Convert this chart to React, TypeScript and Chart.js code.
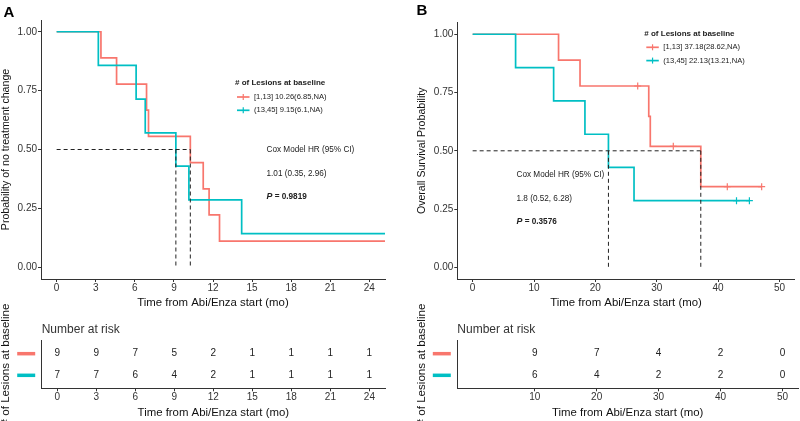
import React, { useEffect, useRef } from "react";
import { Chart, registerables } from "chart.js";

Chart.register(...registerables);

const FONT = "'Liberation Sans', Arial, Helvetica, sans-serif";
const RED = "#F8766D";
const CYAN = "#00BFC4";
const AXIS = "#333333";
const INK = "#222222";

// ---------- shared ----------
const yTicks = [0, 0.25, 0.5, 0.75, 1];
const riskRows = [1, 2];

// ---------- Panel A: time to treatment change ----------
const aXTicks = [0, 3, 6, 9, 12, 15, 18, 21, 24];
const aRedTime = [0, 3.4, 4.6, 6.9, 7.05, 10.26, 11.25, 11.7, 12.5, 26];
const aRedSurv = [1, 0.889, 0.778, 0.667, 0.556, 0.444, 0.333, 0.222, 0.111, 0.111];
const aCyanTime = [0, 3.2, 6.1, 6.8, 9.15, 10.15, 14.2, 26];
const aCyanSurv = [1, 0.857, 0.714, 0.571, 0.429, 0.286, 0.143, 0.143];
const aMedians = [9.15, 10.26];
const aLegend = ["[1,13] 10.26(6.85,NA)", "(13,45] 9.15(6.1,NA)"];
const aCox = ["Cox Model HR (95% CI)", "1.01 (0.35, 2.96)", "0.9819"];
const aRiskTimes = [0, 3, 6, 9, 12, 15, 18, 21, 24];
const aRiskRed = [9, 9, 7, 5, 2, 1, 1, 1, 1];
const aRiskCyan = [7, 7, 6, 4, 2, 1, 1, 1, 1];

// ---------- Panel B: overall survival ----------
const bXTicks = [0, 10, 20, 30, 40, 50];
const bRedTime = [0, 14, 17.5, 28.7, 28.95, 37.18, 47.1];
const bRedSurv = [1, 0.889, 0.778, 0.648, 0.519, 0.346, 0.346];
const bRedCensorTime = [26.9, 32.7, 41.5, 47.1];
const bRedCensorSurv = [0.778, 0.519, 0.346, 0.346];
const bCyanTime = [0, 7, 13.2, 18.3, 22.13, 26.3, 45.1];
const bCyanSurv = [1, 0.857, 0.714, 0.571, 0.429, 0.286, 0.286];
const bCyanCensorTime = [43.0, 45.1];
const bCyanCensorSurv = [0.286, 0.286];
const bMedians = [22.13, 37.18];
const bLegend = ["[1,13] 37.18(28.62,NA)", "(13,45] 22.13(13.21,NA)"];
const bCox = ["Cox Model HR (95% CI)", "1.8 (0.52, 6.28)", "0.3576"];
const bRiskTimes = [10, 20, 30, 40, 50];
const bRiskRed = [9, 7, 4, 2, 0];
const bRiskCyan = [6, 4, 2, 2, 0];

const xTitle = "Time from Abi/Enza start (mo)";
const riskYTitle = "# of Lesions at baseline";
const legendTitle = "# of Lesions at baseline";

Chart.defaults.font.family = FONT;

type Pt = { x: number; y: number; n?: number };
const pts = (xs: number[], ys: number[]): Pt[] => xs.map((x, i) => ({ x, y: ys[i] }));

function xScale(min: number, max: number, ticks: number[], height: number, titlePadBottom: number) {
  return {
    type: "linear",
    min,
    max,
    afterBuildTicks: (s: any) => {
      s.ticks = ticks.map((v) => ({ value: v }));
    },
    afterFit: (s: any) => {
      s.height = height;
    },
    grid: { drawOnChartArea: false, drawTicks: true, tickLength: 3, color: AXIS, tickColor: AXIS, lineWidth: 1 },
    border: { display: true, color: AXIS, width: 1 },
    ticks: {
      color: AXIS,
      font: { family: FONT, size: 10 },
      padding: 0,
      maxRotation: 0,
      autoSkip: false,
      callback: (v: any) => String(v),
    },
    title: {
      display: true,
      text: xTitle,
      color: "#111",
      font: { family: FONT, size: 11.4 },
      padding: { top: 0, bottom: titlePadBottom },
    },
  };
}

type KMOpts = {
  letter: string;
  letterX: number;
  letterY: number;
  yTitle: string;
  xMin: number;
  xMax: number;
  xTicks: number[];
  padLeft: number;
  yWidth: number;
  padTop: number;
  padRight: number;
  red: Pt[];
  cyan: Pt[];
  redCensor: Pt[];
  cyanCensor: Pt[];
  medians: number[];
  legendX: number;
  legendY: number;
  legendText: string[];
  coxX: number;
  coxY: number;
  cox: string[];
};

function kmConfig(o: KMOpts): any {
  const medMax = Math.max(...o.medians);
  const dash = {
    type: "line",
    borderColor: "#222",
    borderWidth: 1,
    borderDash: [4, 3],
    pointRadius: 0,
    fill: false,
  };
  const datasets: any[] = [
    { ...dash, data: [{ x: 0, y: 0.5 }, { x: medMax, y: 0.5 }] },
    ...o.medians.map((m) => ({ ...dash, data: [{ x: m, y: 0.5 }, { x: m, y: 0 }] })),
    {
      type: "scatter",
      data: o.cyanCensor,
      pointStyle: "cross",
      pointRadius: 3.5,
      borderColor: CYAN,
      backgroundColor: CYAN,
      borderWidth: 1.2,
      showLine: false,
    },
    {
      type: "line",
      data: o.cyan,
      borderColor: CYAN,
      borderWidth: 1.7,
      stepped: "before",
      pointRadius: 0,
      fill: false,
    },
    {
      type: "scatter",
      data: o.redCensor,
      pointStyle: "cross",
      pointRadius: 3.5,
      borderColor: RED,
      backgroundColor: RED,
      borderWidth: 1.2,
      showLine: false,
    },
    {
      type: "line",
      data: o.red,
      borderColor: RED,
      borderWidth: 1.7,
      stepped: "before",
      pointRadius: 0,
      fill: false,
    },
  ];

  const decor = {
    id: "kmDecor",
    afterDraw(chart: any) {
      const ctx = chart.ctx as CanvasRenderingContext2D;
      ctx.save();
      ctx.fillStyle = "#000";
      ctx.textAlign = "left";
      ctx.textBaseline = "alphabetic";
      ctx.font = `bold 15px ${FONT}`;
      ctx.fillText(o.letter, o.letterX, o.letterY);

      // legend
      ctx.textBaseline = "middle";
      ctx.fillStyle = INK;
      ctx.font = `bold 8px ${FONT}`;
      ctx.fillText(legendTitle, o.legendX, o.legendY);
      const cols = [RED, CYAN];
      o.legendText.forEach((t, i) => {
        const y = o.legendY + 14 + i * 13.3;
        const x1 = o.legendX + 2;
        const x2 = o.legendX + 14.5;
        ctx.strokeStyle = cols[i];
        ctx.lineWidth = 1.7;
        ctx.beginPath();
        ctx.moveTo(x1, y);
        ctx.lineTo(x2, y);
        ctx.stroke();
        ctx.lineWidth = 1.2;
        ctx.beginPath();
        ctx.moveTo((x1 + x2) / 2, y - 3);
        ctx.lineTo((x1 + x2) / 2, y + 3);
        ctx.stroke();
        ctx.fillStyle = INK;
        ctx.font = `7.6px ${FONT}`;
        ctx.fillText(t, o.legendX + 19, y);
      });

      // cox annotation
      ctx.fillStyle = INK;
      ctx.font = `8.2px ${FONT}`;
      ctx.fillText(o.cox[0], o.coxX, o.coxY);
      ctx.fillText(o.cox[1], o.coxX, o.coxY + 24);
      ctx.font = `italic bold 8.8px ${FONT}`;
      ctx.fillText("P", o.coxX, o.coxY + 47);
      const pw = ctx.measureText("P").width;
      ctx.font = `bold 8.2px ${FONT}`;
      ctx.fillText(" = " + o.cox[2], o.coxX + pw, o.coxY + 47);
      ctx.restore();
    },
  };

  return {
    type: "line",
    data: { datasets },
    options: {
      responsive: false,
      animation: false,
      events: [],
      layout: { padding: { left: o.padLeft, top: o.padTop, right: o.padRight, bottom: 0 } },
      plugins: { legend: { display: false }, tooltip: { enabled: false } },
      scales: {
        x: xScale(o.xMin, o.xMax, o.xTicks, 41, 10.2),
        y: {
          type: "linear",
          min: -0.05,
          max: 1.05,
          afterBuildTicks: (s: any) => {
            s.ticks = yTicks.map((v) => ({ value: v }));
          },
          afterFit: (s: any) => {
            s.width = o.yWidth;
          },
          grid: { drawOnChartArea: false, drawTicks: true, tickLength: 3, color: AXIS, tickColor: AXIS },
          border: { display: true, color: AXIS, width: 1 },
          ticks: {
            color: AXIS,
            font: { family: FONT, size: 10 },
            padding: 1,
            callback: (v: any) => Number(v).toFixed(2),
          },
          title: {
            display: true,
            text: o.yTitle,
            color: "#111",
            font: { family: FONT, size: 10.6, lineHeight: 1 },
            padding: { top: 0.7, bottom: 0 },
          },
        },
      },
    },
    plugins: [decor],
  };
}

type RiskOpts = {
  xMin: number;
  xMax: number;
  xTicks: number[];
  padLeft: number;
  yWidth: number;
  padRight: number;
  times: number[];
  red: number[];
  cyan: number[];
};

function riskConfig(o: RiskOpts): any {
  const rowData = (vals: number[], row: number): Pt[] => o.times.map((t, i) => ({ x: t, y: row, n: vals[i] }));
  const datasets: any[] = [
    { type: "scatter", data: rowData(o.red, riskRows[0]), pointRadius: 0, showLine: false },
    { type: "scatter", data: rowData(o.cyan, riskRows[1]), pointRadius: 0, showLine: false },
  ];
  const decor = {
    id: "riskDecor",
    afterDraw(chart: any) {
      const ctx = chart.ctx as CanvasRenderingContext2D;
      const area = chart.chartArea;
      const ys = chart.scales.y;
      ctx.save();
      ctx.fillStyle = AXIS;
      ctx.font = `12px ${FONT}`;
      ctx.textAlign = "left";
      ctx.textBaseline = "middle";
      ctx.fillText("Number at risk", area.left, 30);

      // colored group bars on the y axis
      const cols = [RED, CYAN];
      riskRows.forEach((r, i) => {
        const y = ys.getPixelForValue(r);
        ctx.strokeStyle = cols[i];
        ctx.lineWidth = 3.5;
        ctx.beginPath();
        ctx.moveTo(area.left - 24.5, y);
        ctx.lineTo(area.left - 6.5, y);
        ctx.stroke();
      });

      // numbers
      ctx.fillStyle = INK;
      ctx.font = `10px ${FONT}`;
      ctx.textAlign = "center";
      chart.data.datasets.forEach((ds: any, di: number) => {
        const meta = chart.getDatasetMeta(di);
        meta.data.forEach((el: any, j: number) => {
          ctx.fillText(String(ds.data[j].n), el.x, el.y);
        });
      });
      ctx.restore();
    },
  };
  return {
    type: "scatter",
    data: { datasets },
    options: {
      responsive: false,
      animation: false,
      events: [],
      layout: { padding: { left: o.padLeft, top: 40.7, right: o.padRight, bottom: 0 } },
      plugins: { legend: { display: false }, tooltip: { enabled: false } },
      scales: {
        x: xScale(o.xMin, o.xMax, o.xTicks, 32.7, 1.4),
        y: {
          type: "linear",
          min: 0.4,
          max: 2.6,
          reverse: true,
          afterBuildTicks: (s: any) => {
            s.ticks = riskRows.map((v) => ({ value: v }));
          },
          afterFit: (s: any) => {
            s.width = o.yWidth;
          },
          grid: { drawOnChartArea: false, drawTicks: false },
          border: { display: true, color: AXIS, width: 1 },
          ticks: { display: false },
          title: {
            display: true,
            text: riskYTitle,
            color: "#111",
            font: { family: FONT, size: 11.6, lineHeight: 1 },
            padding: { top: 0.2, bottom: 0 },
          },
        },
      },
    },
    plugins: [decor],
  };
}

function ChartCanvas(props: { left: number; top: number; width: number; height: number; make: () => any }) {
  const ref = useRef<HTMLCanvasElement>(null);
  useEffect(() => {
    const chart = new Chart(ref.current as HTMLCanvasElement, props.make());
    return () => chart.destroy();
  }, []);
  return (
    <canvas
      ref={ref}
      width={props.width}
      height={props.height}
      style={{ position: "absolute", left: props.left, top: props.top, width: props.width, height: props.height }}
    />
  );
}

export default function App() {
  return (
    <div
      style={{
        position: "fixed",
        left: 0,
        top: 0,
        width: 800,
        height: 421,
        background: "#fff",
        overflow: "hidden",
      }}
    >
      <ChartCanvas
        left={0}
        top={0}
        width={400}
        height={320}
        make={() =>
          kmConfig({
            letter: "A",
            letterX: 3.5,
            letterY: 16.5,
            yTitle: "Probability of no treatment change",
            xMin: -1.2,
            xMax: 25.2,
            xTicks: aXTicks,
            padLeft: 0,
            yWidth: 41,
            padTop: 20,
            padRight: 15,
            red: pts(aRedTime, aRedSurv),
            cyan: pts(aCyanTime, aCyanSurv),
            redCensor: [],
            cyanCensor: [],
            medians: aMedians,
            legendX: 235,
            legendY: 83,
            legendText: aLegend,
            coxX: 266.5,
            coxY: 150,
            cox: aCox,
          })
        }
      />
      <ChartCanvas
        left={0}
        top={300}
        width={400}
        height={121}
        make={() =>
          riskConfig({
            xMin: -1.2,
            xMax: 25.2,
            xTicks: aRiskTimes,
            padLeft: 0,
            yWidth: 41.7,
            padRight: 15,
            times: aRiskTimes,
            red: aRiskRed,
            cyan: aRiskCyan,
          })
        }
      />
      <ChartCanvas
        left={400}
        top={0}
        width={400}
        height={320}
        make={() =>
          kmConfig({
            letter: "B",
            letterX: 16.5,
            letterY: 15.3,
            yTitle: "Overall Survival Probability",
            xMin: -2.5,
            xMax: 52.5,
            xTicks: bXTicks,
            padLeft: 16,
            yWidth: 41.3,
            padTop: 22.6,
            padRight: 2,
            red: pts(bRedTime, bRedSurv),
            cyan: pts(bCyanTime, bCyanSurv),
            redCensor: pts(bRedCensorTime, bRedCensorSurv),
            cyanCensor: pts(bCyanCensorTime, bCyanCensorSurv),
            medians: bMedians,
            legendX: 244.3,
            legendY: 33.3,
            legendText: bLegend,
            coxX: 116.5,
            coxY: 174.3,
            cox: bCox,
          })
        }
      />
      <ChartCanvas
        left={400}
        top={300}
        width={400}
        height={121}
        make={() =>
          riskConfig({
            xMin: -2.5,
            xMax: 52.5,
            xTicks: bRiskTimes,
            padLeft: 16,
            yWidth: 41.3,
            padRight: 2,
            times: bRiskTimes,
            red: bRiskRed,
            cyan: bRiskCyan,
          })
        }
      />
    </div>
  );
}
